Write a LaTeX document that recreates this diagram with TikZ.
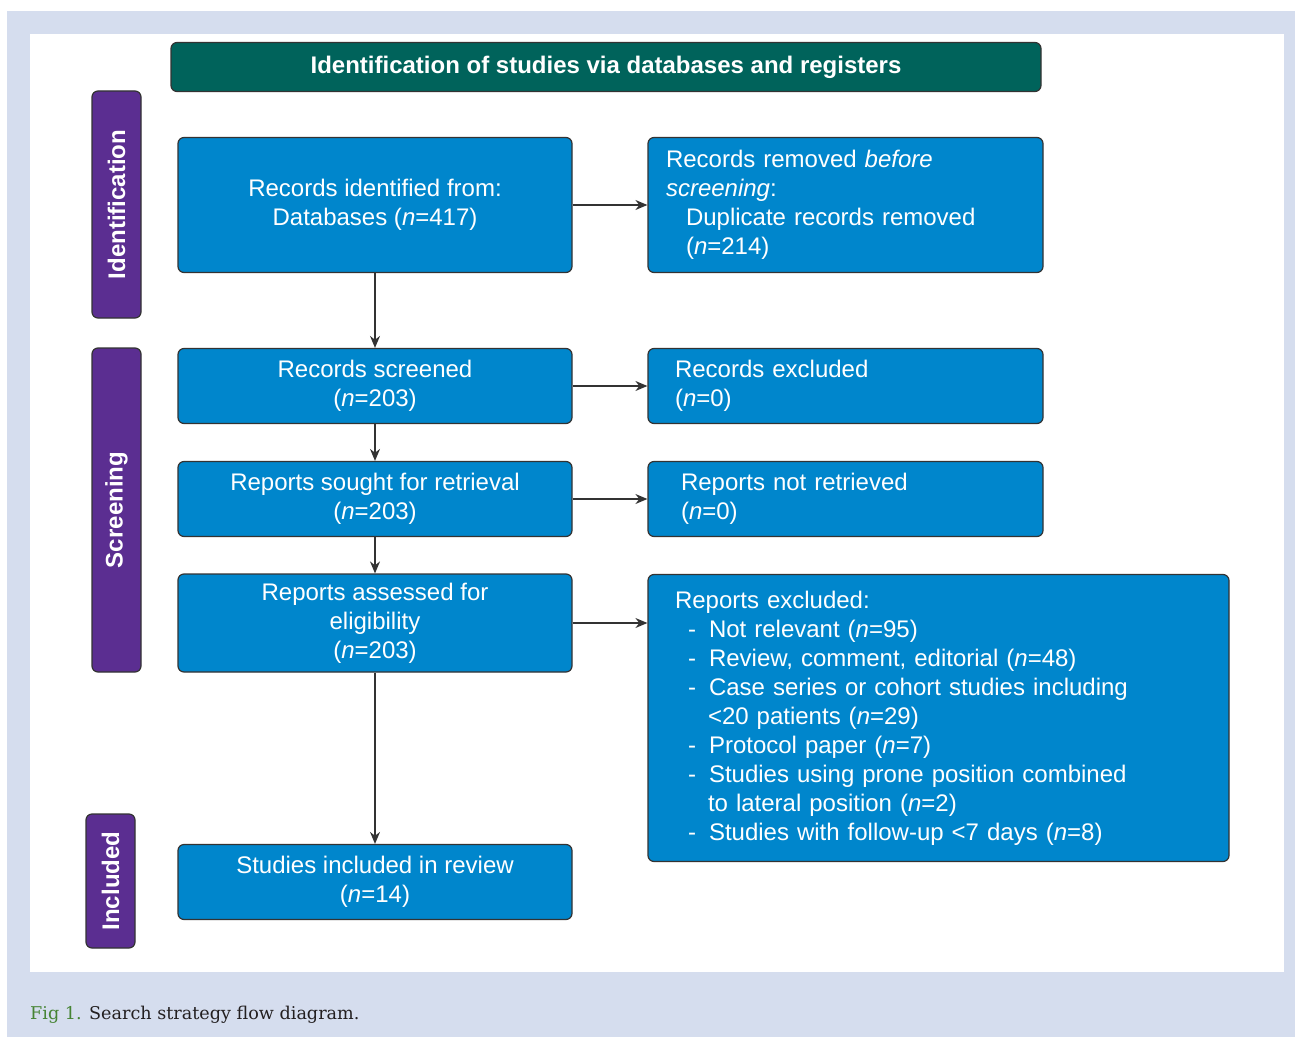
\documentclass[tikz,border=0pt]{standalone}
\usepackage{fontspec}
\setmainfont{Liberation Sans}
\newfontfamily\capfont{DejaVu Serif}
\usetikzlibrary{arrows.meta}
\definecolor{bgblue}{RGB}{213,221,238}
\definecolor{hdrteal}{RGB}{0,99,91}
\definecolor{boxblue}{RGB}{0,134,204}
\definecolor{sidepurple}{RGB}{91,46,145}
\definecolor{edgegray}{RGB}{51,51,51}
\definecolor{figgreen}{RGB}{70,132,52}
\definecolor{captext}{RGB}{35,31,32}
\begin{document}
\begin{tikzpicture}[x=1pt,y=-1pt,
  box/.style={draw=edgegray, line width=1.2pt, fill=boxblue, rounded corners=6pt,
    text=white, font=\fontsize{24}{29}\selectfont, inner sep=0pt, align=center},
  lbox/.style={box, align=left, inner xsep=#1},
  hdr/.style={draw=edgegray, line width=1.2pt, fill=hdrteal, rounded corners=6pt,
    text=white, font=\bfseries\fontsize{24}{29}\selectfont, inner sep=0pt},
  side/.style={draw=edgegray, line width=1.2pt, fill=sidepurple, rounded corners=6pt,
    text=white, font=\bfseries\fontsize{24}{29}\selectfont, rotate=90,
    minimum height=49pt, inner sep=0pt},
  arr/.style={draw=edgegray, line width=1.2pt, -{Stealth[length=12pt,width=10pt]}}
]
\useasboundingbox (0,0) rectangle (1295,1038);
\fill[bgblue] (7,11) rectangle (1295,1037);
\fill[white] (30,34) rectangle (1284,972);

\node[hdr, minimum width=870pt, minimum height=49pt] (hdr) at (606,67)
  {Identification of studies via databases and registers};

\node[side, minimum width=227pt] (sid) at (116.5,204.5) {Identification};
\node[side, minimum width=324pt] (sscr) at (116.5,510) {Screening};
\node[side, minimum width=134pt] (sinc) at (110.5,881) {Included};

\node[box, minimum width=394pt, minimum height=135pt] (A) at (375,205)
  {Records identified from:\\Databases (\textit{n}=417)};
\node[lbox=18pt, text width=359pt, minimum height=135pt] (B) at (845.5,205)
  {Records removed \textit{before}\\\textit{screening}:\\\hspace*{20pt}Duplicate records removed\\\hspace*{20pt}(\textit{n}=214)};

\node[box, minimum width=394pt, minimum height=75pt] (C) at (375,386)
  {Records screened\\(\textit{n}=203)};
\node[lbox=27pt, text width=341pt, minimum height=75pt] (D) at (845.5,386)
  {Records excluded\\(\textit{n}=0)};

\node[box, minimum width=394pt, minimum height=75pt] (E) at (375,499)
  {Reports sought for retrieval\\(\textit{n}=203)};
\node[lbox=33pt, text width=329pt, minimum height=75pt] (F) at (845.5,499)
  {Reports not retrieved\\(\textit{n}=0)};

\node[box, minimum width=394pt, minimum height=98pt] (G) at (375,623)
  {Reports assessed for\\eligibility\\(\textit{n}=203)};
\node[lbox=27pt, text width=527pt, minimum height=287pt] (H) at (938.5,718)
  {Reports excluded:\\
   \hspace*{13pt}\makebox[21pt][l]{-}Not relevant (\textit{n}=95)\\
   \hspace*{13pt}\makebox[21pt][l]{-}Review, comment, editorial (\textit{n}=48)\\
   \hspace*{13pt}\makebox[21pt][l]{-}Case series or cohort studies including\\
   \hspace*{33pt}<20 patients (\textit{n}=29)\\
   \hspace*{13pt}\makebox[21pt][l]{-}Protocol paper (\textit{n}=7)\\
   \hspace*{13pt}\makebox[21pt][l]{-}Studies using prone position combined\\
   \hspace*{33pt}to lateral position (\textit{n}=2)\\
   \hspace*{13pt}\makebox[21pt][l]{-}Studies with follow-up <7 days (\textit{n}=8)};

\node[box, minimum width=394pt, minimum height=75pt] (I) at (375,882)
  {Studies included in review\\(\textit{n}=14)};

\draw[arr] (A.south) -- (C.north);
\draw[arr] (A.east) -- (B.west);
\draw[arr] (C.east) -- (D.west);
\draw[arr] (C.south) -- (E.north);
\draw[arr] (E.east) -- (F.west);
\draw[arr] (E.south) -- (G.north);
\draw[arr] (G.east) -- (G.east -| H.west);
\draw[arr] (G.south) -- (I.north);

\node[anchor=base west, inner sep=0pt, text=captext,
  font=\capfont\fontsize{17.6}{22}\selectfont] (cap) at (30,1019)
  {\textcolor{figgreen}{Fig 1.} Search strategy flow diagram.};
\end{tikzpicture}
\end{document}
